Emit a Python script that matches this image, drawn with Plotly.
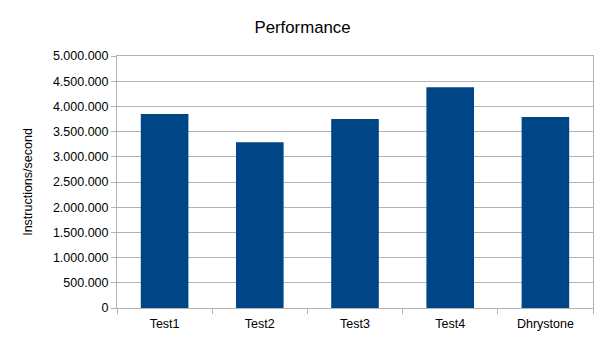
import plotly.graph_objects as go

categories = ["Test1", "Test2", "Test3", "Test4", "Dhrystone"]
values = [3850000, 3290000, 3750000, 4380000, 3790000]
tick_vals = [0, 500000, 1000000, 1500000, 2000000, 2500000, 3000000, 3500000, 4000000, 4500000, 5000000]
tick_text = ["0", "500.000", "1.000.000", "1.500.000", "2.000.000", "2.500.000",
             "3.000.000", "3.500.000", "4.000.000", "4.500.000", "5.000.000"]

grid = "#b3b3b3"
fig = go.Figure(go.Bar(x=categories, y=values, marker=dict(color="#004586", line=dict(width=0))))
fig.update_layout(
    width=605, height=340,
    margin=dict(l=117, r=12, t=56, b=32, autoexpand=False),
    paper_bgcolor="white", plot_bgcolor="white",
    font=dict(family="Liberation Sans, Arial, sans-serif", size=12.5, color="#000000"),
    title=dict(text="Performance", x=0.5, xanchor="center", y=0.92, yanchor="middle",
               font=dict(size=16.8)),
    bargap=0.5,
    showlegend=False,
)
fig.update_xaxes(showline=True, linecolor=grid, linewidth=1, mirror=True,
                 ticks="outside", tickson="boundaries", ticklen=5, tickcolor=grid,
                 ticklabelstandoff=4,
                 showgrid=False, automargin=False)
fig.update_yaxes(range=[0, 5000000], tickvals=tick_vals, ticktext=tick_text,
                 showline=True, linecolor=grid, linewidth=1, mirror=True,
                 ticks="outside", ticklen=5, tickcolor=grid,
                 showgrid=True, gridcolor=grid, gridwidth=1, zeroline=False,
                 automargin=False,
                 title=dict(text="Instructions/second", standoff=17, font=dict(size=12.5)))
fig.write_html("out.html", config={"displayModeBar": False},
               post_script="document.body.style.margin='0';")
